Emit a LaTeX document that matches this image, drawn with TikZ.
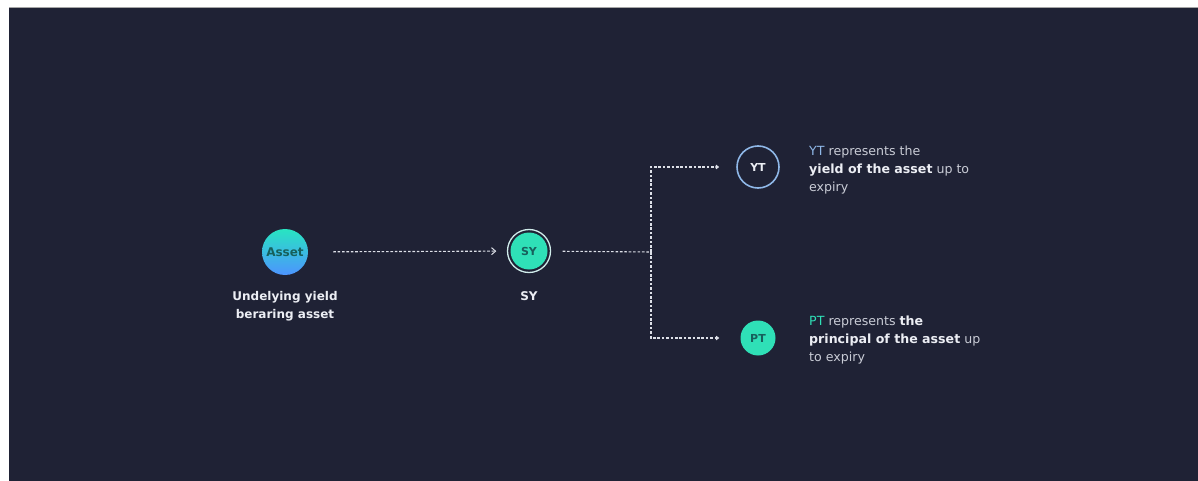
\documentclass[tikz,border=0pt]{standalone}
\usepackage{fontspec}
\setmainfont{DejaVu Sans}
\usetikzlibrary{arrows.meta}
\definecolor{bg}{HTML}{1F2235}
\definecolor{txt}{HTML}{ECEEF4}
\definecolor{soft}{HTML}{C9CCD6}
\definecolor{mint}{HTML}{2FE0B7}
\definecolor{ytblue}{HTML}{8FB8E8}
\definecolor{ink}{HTML}{17605C}
\definecolor{dash}{HTML}{DDE0E8}
\tikzset{
  flow/.style={draw=dash, line width=1.1pt, dash pattern=on 2.6pt off 1.8pt},
  token/.style={circle, inner sep=0pt, font=\fontsize{11}{12}\selectfont\bfseries},
  caption/.style={text=txt, font=\fontsize{12}{18}\selectfont\bfseries, align=center},
  note/.style={text=soft, font=\fontsize{12.6}{18}\selectfont, align=left, anchor=west, inner sep=0pt},
}
\begin{document}
\begin{tikzpicture}[x=1pt,y=-1pt]
\useasboundingbox (0,0) rectangle (1198,481);
\fill[white] (0,0) rectangle (1198,481);
\fill[bg] (9,7) rectangle (1198,481);
\draw[color=gray!70, line width=1pt] (9,7.5) -- (1198,7.5);

% nodes
\node[token, minimum size=46pt, top color=mint!85!cyan, bottom color=cyan!40!blue!70!white, text=ink, font=\fontsize{12}{12}\selectfont\bfseries] (asset) at (285,252) {Asset};
\node[caption, anchor=north] (assetlbl) at (285,288) {Undelying yield\\beraring asset};

\node[token, minimum size=37pt, fill=mint, text=ink] (sy) at (529,251) {SY};
\draw[txt!85!mint, line width=1.3pt] (sy) circle (21.5);
\node[caption, anchor=north] (sylbl) at (529,288) {SY};

\node[token, minimum size=42pt, fill=bg, draw=ytblue, line width=1.6pt, text=txt] (yt) at (758,167) {YT};
\node[token, minimum size=35pt, fill=mint, text=ink] (pt) at (758,338) {PT};

\coordinate (j) at (651,252);

% connectors
\draw[flow, -{Straight Barb[length=4pt,width=7pt,line width=1pt]}, shorten <=25pt, shorten >=14pt] (asset) -- (sy);
\draw[flow, shorten <=15pt] (sy) -- (j);
\draw[flow, -{Kite[length=4pt,width=4.5pt]}, shorten >=17pt] (j) |- (yt);
\draw[flow, -{Kite[length=4pt,width=4.5pt]}, shorten >=21pt] (j) |- (pt);

% notes
\node[note] (ytnote) at (809,170) {{\color{ytblue}YT} represents the\\{\color{txt}\bfseries yield of the asset} up to\\expiry};
\node[note] (ptnote) at (809,340) {{\color{mint}PT} represents {\color{txt}\bfseries the}\\{\color{txt}\bfseries principal of the asset} up\\to expiry};
\end{tikzpicture}
\end{document}
